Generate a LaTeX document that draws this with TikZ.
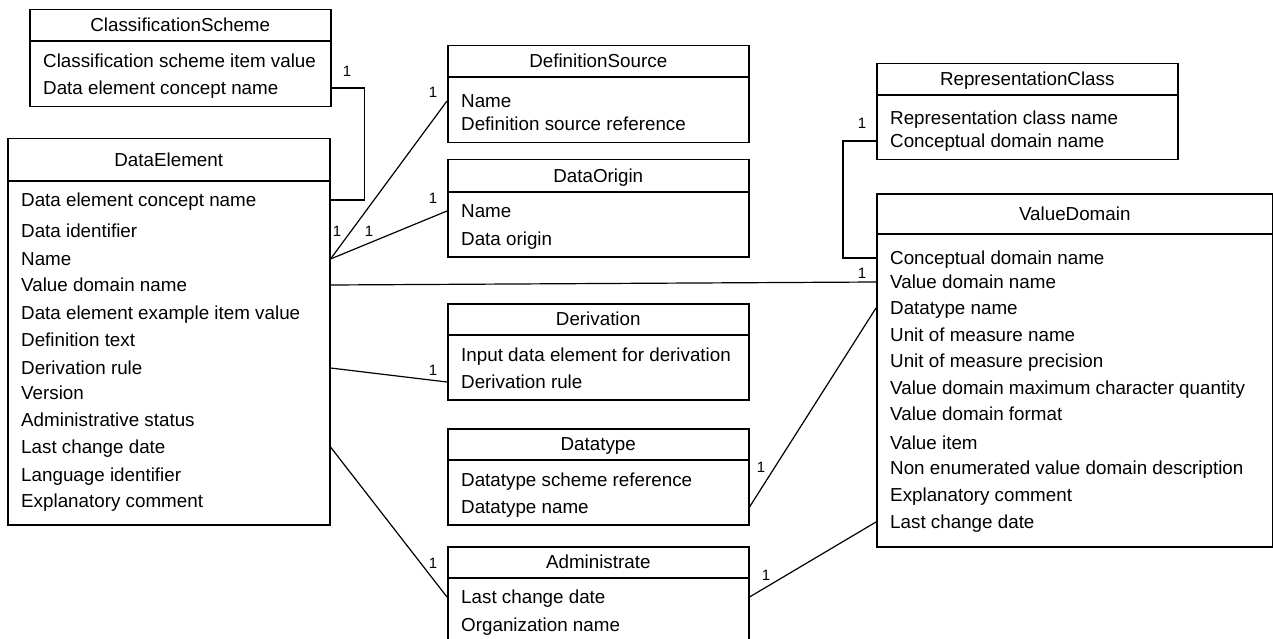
\documentclass[tikz,border=0pt]{standalone}
\usepackage{fontspec}
\setmainfont{Liberation Sans}
\usetikzlibrary{calc}

\tikzset{
  cbox/.style={draw, line width=1.5pt, inner sep=0pt, fill=white},
  cline/.style={line width=1.5pt},
  ctitle/.style={inner sep=0pt, font=\fontsize{18.8}{22}\selectfont, text height=13.5pt, text depth=0pt},
  citem/.style={anchor=west, inner sep=0pt, font=\fontsize{18.8}{22}\selectfont, text height=13.5pt, text depth=0pt},
  conn/.style={line width=1.2pt},
  mult/.style={inner sep=0pt, font=\fontsize{15}{18}\selectfont}
}

% \classbox{name}{x}{y}{width}{height}{header height}{title}{item/y list}
\newcommand{\classbox}[8]{%
  \node[cbox, minimum width=#4pt, minimum height=#5pt, anchor=north west] (#1) at (#2,#3) {};
  \draw[cline] ([yshift=-#6pt]#1.north west) -- ([yshift=-#6pt]#1.north east);
  \node[ctitle] (#1-t) at ([yshift=-#6pt/2]#1.north) {#7};
  \foreach \txt/\yy [count=\i] in {#8} {
    \node[citem] (#1-\i) at (#2+14,\yy) {\txt};
  }
}

\begin{document}
\begin{tikzpicture}[x=1pt, y=-1pt]
\path[use as bounding box] (0,0) rectangle (1273,639);
\clip (0,0) rectangle (1273,639);
\fill[white] (0,0) rectangle (1273,639);

% classes
\classbox{cs}{29}{9}{301}{97}{32}{ClassificationScheme}{%
  Classification scheme item value/61, Data element concept name/88}
\classbox{de}{7}{138}{322}{386}{43}{DataElement}{%
  Data element concept name/200, Data identifier/231, Name/259,
  Value domain name/285, Data element example item value/313,
  Definition text/340, Derivation rule/368, Version/393,
  Administrative status/420, Last change date/447,
  Language identifier/475, Explanatory comment/501}
\classbox{dsrc}{447}{45}{301}{97}{32}{DefinitionSource}{%
  Name/101, Definition source reference/124}
\classbox{dorg}{447}{159}{301}{97}{33}{DataOrigin}{%
  Name/211, Data origin/239}
\classbox{der}{447}{303}{301}{96}{32}{Derivation}{%
  Input data element for derivation/355, Derivation rule/382}
\classbox{dt}{447}{428}{301}{96}{32}{Datatype}{%
  Datatype scheme reference/480, Datatype name/507}
\classbox{adm}{447}{546}{301}{120}{32}{Administrate}{%
  Last change date/597, Organization name/625}
\classbox{rc}{876}{63}{301}{96}{32}{RepresentationClass}{%
  Representation class name/118, Conceptual domain name/141}
\classbox{vd}{876}{193}{396}{353}{41}{ValueDomain}{%
  Conceptual domain name/258, Value domain name/282, Datatype name/308,
  Unit of measure name/335, Unit of measure precision/361,
  Value domain maximum character quantity/388, Value domain format/414,
  Value item/443, Non enumerated value domain description/468,
  Explanatory comment/495, Last change date/522}

% associations
\draw[conn] (cs.east |- cs-2) -- ++(33,0) |- (de.east |- de-1);
\draw[conn] (de.east |- de-3) -- (dsrc.west |- dsrc-1);
\draw[conn] (de.east |- de-3) -- (dorg.west |- dorg-1);
\draw[conn] (de.east |- de-4) -- (vd.west |- vd-2);
\draw[conn] (de.east |- de-7) -- (der.west |- der-2);
\draw[conn] (de.east |- de-10) -- (adm.west |- adm-1);
\draw[conn] (dt.east |- dt-2) -- (vd.west |- vd-3);
\draw[conn] (adm.east |- adm-1) -- (vd.west |- vd-11);
\draw[conn] (rc.west |- rc-2) -- ++(-33,0) |- (vd.west |- vd-1);

% multiplicities
\node[mult] (m1) at (347,71) {1};
\node[mult] (m2) at (337,231) {1};
\node[mult] (m3) at (433,92) {1};
\node[mult] (m4) at (369,231) {1};
\node[mult] (m5) at (433,198) {1};
\node[mult] (m6) at (862,273) {1};
\node[mult] (m7) at (433,370) {1};
\node[mult] (m8) at (433,563) {1};
\node[mult] (m9) at (761,467) {1};
\node[mult] (m10) at (766,575) {1};
\node[mult] (m11) at (862,123) {1};
\end{tikzpicture}
\end{document}
